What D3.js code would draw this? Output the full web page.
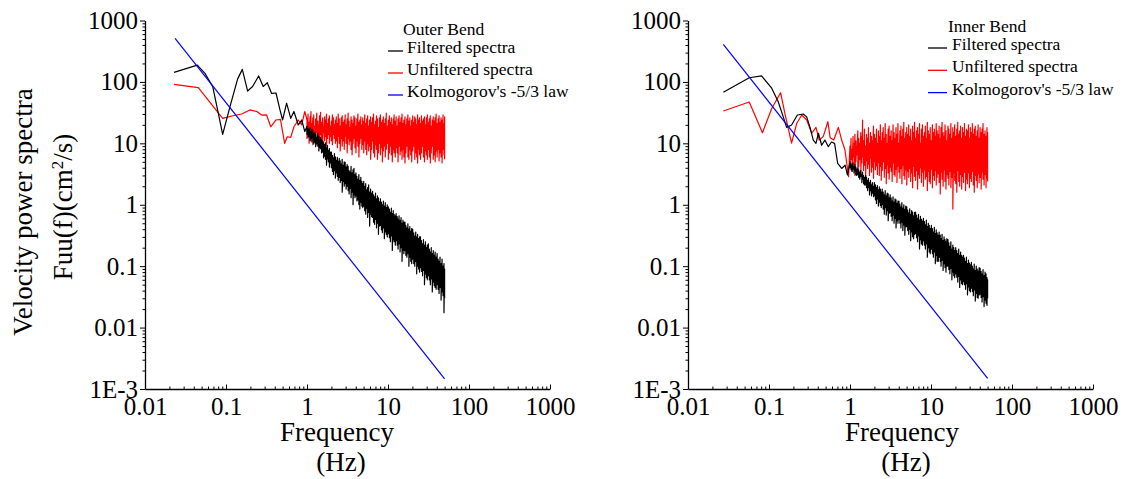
<!DOCTYPE html>
<html>
<head>
<meta charset="utf-8">
<script src="https://cdn.jsdelivr.net/npm/d3@7"></script>
<style>
  html, body { margin: 0; padding: 0; background: #fff; }
  svg { display: block; font-family: "Liberation Serif", "Times New Roman", serif; }
</style>
</head>
<body>
<div id="chart"></div>
<script>
// axis ticks
var xTickValues = [0.01, 0.1, 1, 10, 100, 1000];
var xTickLabels = ["0.01", "0.1", "1", "10", "100", "1000"];
var yTickValues = [0.001, 0.01, 0.1, 1, 10, 100, 1000];
var yTickLabels = ["1E-3", "0.01", "0.1", "1", "10", "100", "1000"];

var legendLabels = ["Filtered spectra", "Unfiltered spectra", "Kolmogorov's -5/3 law"];
var seriesColors = ["#000000", "#ff0000", "#0000ff"];

// frequency columns of the noisy part (1 - 50 Hz); each column has a max and a min value
var denseFreq = [1, 1.03, 1.06, 1.09, 1.12, 1.15, 1.18, 1.21, 1.25, 1.28,
  1.32, 1.36, 1.4, 1.43, 1.47, 1.51, 1.56, 1.6, 1.65, 1.69,
  1.74, 1.79, 1.84, 1.89, 1.95, 2.0, 2.06, 2.12, 2.18, 2.24,
  2.3, 2.37, 2.43, 2.5, 2.57, 2.65, 2.72, 2.8, 2.88, 2.96,
  3.04, 3.13, 3.22, 3.31, 3.4, 3.5, 3.6, 3.7, 3.8, 3.91,
  4.02, 4.13, 4.25, 4.37, 4.49, 4.62, 4.75, 4.88, 5.02, 5.16,
  5.31, 5.46, 5.61, 5.77, 5.93, 6.1, 6.27, 6.45, 6.63, 6.82,
  7.01, 7.21, 7.41, 7.62, 7.84, 8.06, 8.29, 8.52, 8.76, 9.01,
  9.26, 9.52, 9.79, 10.1, 10.4, 10.7, 11.0, 11.3, 11.6, 11.9,
  12.3, 12.6, 13.0, 13.3, 13.7, 14.1, 14.5, 14.9, 15.3, 15.7,
  16.2, 16.6, 17.1, 17.6, 18.1, 18.6, 19.1, 19.6, 20.2, 20.8,
  21.4, 22.0, 22.6, 23.2, 23.9, 24.5, 25.2, 25.9, 26.7, 27.4,
  28.2, 29.0, 29.8, 30.6, 31.5, 32.4, 33.3, 34.2, 35.2, 36.2,
  37.2, 38.2, 39.3, 40.4, 41.6, 42.7, 43.9, 45.2, 46.5, 47.8,
  49.1, 50.0];

// ---- Outer bend ----
var outerFilteredLowFreq = [0.0228, 0.0443, 0.055, 0.0686, 0.091, 0.112, 0.139, 0.159, 0.185, 0.213,
  0.253, 0.288, 0.323, 0.366, 0.414, 0.464, 0.5, 0.56, 0.63, 0.69, 0.78, 0.86, 0.94];
var outerFilteredLow = [143, 188, 138, 83.5, 14, 39.5, 111, 160, 71, 84,
  125, 84, 97, 65, 66, 35, 24, 45, 25.5, 33, 19.9, 24, 15.5];
var outerFilteredHi = [19, 17.5, 16.5, 18, 15, 17, 16, 14.5,
  15, 14, 12.5, 14.5, 13, 11, 12.5, 11.5,
  11, 10.5, 9.5, 10.2, 8.5, 9.2, 7.6, 8.2, 7.2,
  7.2, 6.4, 5.8, 6.8, 6, 5.3, 5.9, 5.1,
  5.7, 5.2, 4.6, 5.5, 4.4, 5, 4.9, 4.1,
  4.5, 4.2, 3.6, 3.4, 4.2, 3.3, 3.7, 3.9, 3.1,
  3.3, 2.9, 2.6, 3.1, 2.5, 2.8, 2.4, 2.2,
  2.4, 2.0, 2.2, 1.75, 1.9, 2.1, 1.6, 1.8, 1.55,
  1.65, 1.45, 1.35, 1.55, 1.25, 1.4, 1.3, 1.12,
  1.25, 1.1, 1.0, 1.15, 0.95, 1.08, 0.9, 1.0,
  0.92, 0.85, 0.75, 0.88, 0.72, 0.8, 0.7, 0.66,
  0.72, 0.64, 0.58, 0.66, 0.55, 0.62, 0.5, 0.56, 0.52,
  0.52, 0.46, 0.42, 0.49, 0.4, 0.44, 0.37, 0.41,
  0.4, 0.35, 0.31, 0.36, 0.3, 0.33, 0.28, 0.3,
  0.3, 0.26, 0.23, 0.27, 0.22, 0.25, 0.2, 0.22,
  0.23, 0.19, 0.17, 0.2, 0.16, 0.18, 0.15, 0.17, 0.14,
  0.16, 0.13, 0.12, 0.14, 0.11, 0.13, 0.1, 0.11, 0.09];
var outerFilteredLo = [14, 12.5, 13, 11, 12, 10.5, 12.5, 9.8,
  10.5, 8.8, 9.8, 9, 7.5, 8.5, 8.2, 7,
  7.2, 5.8, 6.2, 5.5, 4.4, 5.6, 5, 4.1, 4.8,
  4, 3.5, 3.1, 3.6, 2.7, 3.3, 2.9, 2.5,
  2.8, 2.3, 2.5, 1.6, 2.4, 2.0, 2.2, 1.8,
  2.0, 1.7, 1.5, 1.85, 1.3, 1.6, 1.0, 1.45, 1.3,
  1.4, 1.15, 1.2, 1.0, 0.85, 1.1, 0.95, 0.9,
  0.95, 0.8, 0.7, 0.88, 0.62, 0.75, 0.45, 0.7, 0.64,
  0.62, 0.52, 0.48, 0.58, 0.42, 0.5, 0.33, 0.45,
  0.46, 0.39, 0.35, 0.42, 0.28, 0.36, 0.33, 0.3,
  0.34, 0.29, 0.25, 0.31, 0.18, 0.27, 0.25, 0.22,
  0.26, 0.22, 0.19, 0.23, 0.17, 0.2, 0.12, 0.18, 0.16,
  0.18, 0.15, 0.14, 0.16, 0.1, 0.14, 0.12, 0.11,
  0.13, 0.11, 0.1, 0.12, 0.075, 0.1, 0.09, 0.08,
  0.095, 0.082, 0.07, 0.085, 0.05, 0.075, 0.065, 0.06,
  0.07, 0.06, 0.05, 0.062, 0.038, 0.055, 0.048, 0.045, 0.042,
  0.05, 0.042, 0.036, 0.045, 0.028, 0.038, 0.033, 0.0175, 0.03];

var outerUnfilteredLowFreq = [0.0228, 0.0455, 0.091, 0.118, 0.156, 0.197, 0.24, 0.276, 0.317, 0.357,
  0.414, 0.47, 0.53, 0.57, 0.63, 0.69, 0.78, 0.86, 0.94];
var outerUnfilteredLow = [91.4, 80.5, 25.5, 27.9, 30, 35, 33, 28.9, 29, 18.6,
  24, 24.6, 10, 12.8, 12.5, 18.6, 24, 20, 33];
var outerUnfilteredHi = [24, 30, 22, 27, 33, 21, 26, 29, 19, 25, 31, 23, 20, 28, 32, 22, 26, 18, 27, 24, 30, 21, 25, 28, 19, 23, 29, 26, 20, 24,
  27, 21, 30, 25, 19, 26, 28, 22, 24, 29, 20, 25, 31, 23, 18, 27, 24, 21, 28, 26, 19, 25, 30, 22, 24, 27, 20, 26, 23, 29,
  21, 25, 28, 19, 24, 27, 22, 26, 30, 20, 23, 28, 25, 18, 26, 29, 22, 24, 27, 21, 25, 31, 19, 24, 28, 22, 26, 20, 25, 29,
  23, 27, 19, 25, 28, 22, 26, 30, 21, 24, 27, 20, 25, 29, 23, 26, 19, 24, 28, 22, 27, 25, 20, 29, 24, 26, 21, 28, 23, 25,
  27, 20, 26, 29, 22, 25, 28, 19, 24, 27, 23, 26, 30, 21, 25, 28, 22, 26, 24, 29, 21, 27];
var outerUnfilteredLo = [12, 14, 10, 15, 11, 13, 9.5, 14, 12, 10, 15, 11, 13, 9, 14, 12, 10.5, 15, 11, 13, 9, 12, 14, 10, 13, 11, 9.5, 14, 12, 10,
  11, 8.5, 13, 10, 7.5, 12, 9, 11, 8, 13, 10, 7, 12, 9.5, 11, 8, 6.5, 10, 12, 8.5, 7, 11, 9, 6, 10, 12, 8, 9.5, 7, 11,
  8, 6.5, 10, 7.5, 9, 5.5, 8, 11, 7, 6, 9.5, 8, 5.5, 7, 10, 6.5, 8.5, 5, 7.5, 9, 6, 8, 10, 5.5, 7, 9, 6.5, 5, 8, 7,
  6, 8.5, 7, 5, 9, 6.5, 7.5, 5.5, 8, 6, 4.8, 7, 9, 6, 5.5, 8, 6.5, 5, 7.5, 9, 5.5, 7, 6, 4.8, 8, 6.5, 5.5, 7, 9, 6,
  5, 7.5, 6.5, 5.5, 8, 6, 4.8, 7, 9, 5.5, 6.5, 5, 7.5, 6, 8, 5.2, 7, 6, 4.8, 8, 6.5, 5.5];
var outerKolFreq = [0.0235, 50];
var outerKol = [513, 0.00146];

// ---- Inner bend ----
var innerFilteredLowFreq = [0.0273, 0.057, 0.081, 0.108, 0.130, 0.150, 0.165, 0.19, 0.224, 0.265,
  0.292, 0.321, 0.352, 0.38, 0.407, 0.447, 0.49, 0.54, 0.59, 0.645, 0.705, 0.79, 0.87, 0.93];
var innerFilteredLow = [67.7, 117, 125, 79, 47.6, 27, 18.2, 19.9, 28.9, 30,
  27, 18.2, 11.3, 10, 14.6, 9.3, 11.3, 8.8, 10.5, 10, 4.7, 3.9, 4.4, 3.05];
var innerFilteredHi = [5.0, 4.7, 4.4, 4.8, 4.2, 4.5, 4.1, 3.8,
  4.0, 3.7, 3.4, 3.6, 3.1, 3.4, 3.0, 2.8,
  3.0, 2.8, 2.5, 2.7, 2.3, 2.5, 2.1, 2.3, 2.0,
  2.3, 2.1, 1.9, 2.05, 1.75, 1.95, 1.8, 1.6,
  1.8, 1.6, 1.45, 1.7, 1.4, 1.55, 1.5, 1.3,
  1.45, 1.3, 1.15, 1.35, 1.1, 1.25, 1.2, 1.05, 1.15,
  1.15, 1.02, 0.92, 1.08, 0.88, 1.0, 0.84, 0.95,
  0.92, 0.82, 0.74, 0.86, 0.7, 0.8, 0.76, 0.66, 0.75,
  0.76, 0.68, 0.6, 0.7, 0.56, 0.65, 0.58, 0.54,
  0.6, 0.53, 0.47, 0.56, 0.44, 0.5, 0.46, 0.41,
  0.46, 0.41, 0.36, 0.43, 0.34, 0.39, 0.35, 0.32,
  0.36, 0.32, 0.28, 0.33, 0.26, 0.3, 0.27, 0.25, 0.28,
  0.27, 0.24, 0.21, 0.25, 0.19, 0.22, 0.2, 0.18,
  0.2, 0.18, 0.16, 0.19, 0.15, 0.17, 0.15, 0.14,
  0.15, 0.135, 0.12, 0.14, 0.11, 0.125, 0.112, 0.105,
  0.115, 0.1, 0.09, 0.108, 0.085, 0.1, 0.09, 0.083, 0.095,
  0.092, 0.082, 0.074, 0.088, 0.07, 0.08, 0.075, 0.065, 0.06];
var innerFilteredLo = [4.0, 3.7, 3.5, 3.8, 3.3, 3.6, 3.1, 3.0,
  3.1, 2.8, 2.6, 2.9, 2.3, 2.6, 2.2, 2.1,
  2.1, 1.9, 1.7, 1.9, 1.45, 1.7, 1.4, 1.55, 1.35,
  1.4, 1.2, 1.05, 1.25, 0.95, 1.1, 0.98, 0.9,
  1.0, 0.85, 0.7, 0.9, 0.68, 0.8, 0.55, 0.72,
  0.75, 0.65, 0.55, 0.68, 0.5, 0.6, 0.42, 0.55, 0.5,
  0.58, 0.5, 0.42, 0.52, 0.38, 0.47, 0.32, 0.44,
  0.44, 0.38, 0.33, 0.4, 0.26, 0.36, 0.3, 0.28, 0.33,
  0.34, 0.29, 0.25, 0.31, 0.19, 0.27, 0.23, 0.22,
  0.26, 0.22, 0.19, 0.23, 0.14, 0.2, 0.17, 0.16,
  0.19, 0.16, 0.14, 0.17, 0.11, 0.15, 0.12, 0.12,
  0.14, 0.12, 0.1, 0.125, 0.085, 0.11, 0.095, 0.08, 0.1,
  0.1, 0.088, 0.075, 0.092, 0.06, 0.08, 0.07, 0.065,
  0.075, 0.066, 0.055, 0.068, 0.045, 0.06, 0.052, 0.05,
  0.056, 0.05, 0.042, 0.052, 0.034, 0.046, 0.04, 0.038,
  0.044, 0.039, 0.033, 0.041, 0.027, 0.036, 0.031, 0.03, 0.034,
  0.035, 0.031, 0.026, 0.032, 0.022, 0.028, 0.025, 0.023, 0.03];

var innerUnfilteredLowFreq = [0.0273, 0.057, 0.083, 0.108, 0.139, 0.157, 0.19, 0.22, 0.254, 0.292,
  0.337, 0.38, 0.417, 0.468, 0.533, 0.569, 0.63, 0.718, 0.79, 0.867, 0.96];
var innerUnfilteredLow = [33.6, 47, 14.9, 37, 66.7, 30.8, 10.1, 21.2, 28.9, 24,
  14.6, 18.2, 11.3, 13, 22.5, 12.3, 11.3, 18.2, 11.3, 7.8, 2.86];
var innerUnfilteredHi = [9, 12, 8, 13, 10, 14, 11, 9, 16, 12, 10, 15, 13, 24, 11, 17, 9, 14, 12, 18, 10, 15, 13, 11, 19, 14, 12, 17, 10, 16,
  13, 20, 11, 15, 18, 12, 21, 14, 10, 17, 19, 13, 16, 11, 20, 15, 12, 18, 14, 21, 10, 16, 19, 13, 17, 22, 12, 15, 18, 14,
  20, 13, 17, 11, 19, 15, 22, 12, 16, 18, 14, 21, 10, 17, 20, 13, 15, 19, 12, 22, 16, 14, 18, 11, 20, 15, 17, 13, 21, 16,
  14, 19, 12, 18, 22, 15, 13, 20, 16, 11, 19, 17, 14, 21, 12, 18, 15, 20, 13, 17, 22, 14, 16, 19, 12, 18, 15, 21, 13, 17,
  16, 20, 12, 18, 15, 21, 14, 17, 19, 13, 16, 20, 12, 18, 15, 17, 21, 14, 16, 13, 18, 15];
var innerUnfilteredLo = [4, 5.5, 3.5, 6, 4.5, 3, 5, 6.5, 3.8, 4.2, 5.5, 3.2, 4.8, 6, 3.6, 4.4, 2.8, 5.2, 3.9, 4.6, 3, 5.8, 3.4, 4.1, 2.7, 5, 3.7, 4.3, 3.1, 4.9,
  3, 4.2, 2.5, 3.6, 5, 2.8, 3.9, 2.2, 4.5, 3.3, 2.6, 4.1, 3.5, 2.4, 4.8, 3.1, 2.9, 3.8, 2.3, 4.3, 3.4, 2.7, 3.9, 2.2, 4.4, 3, 2.6, 3.7, 2.1, 3.5,
  2.8, 3.9, 2.4, 3.3, 1.9, 4.2, 2.9, 2.5, 3.6, 1.8, 3.1, 2.7, 4, 2.3, 3.4, 2.0, 3.7, 2.6, 2.9, 1.7, 3.5, 2.4, 2.2, 3.8, 1.9, 3, 2.5, 3.6, 2.1, 2.8,
  3.2, 2.3, 1.5, 3.4, 2.6, 2, 3.7, 2.4, 1.8, 3.1, 2.7, 2.1, 3.5, 1.9, 2.8, 0.85, 3.3, 2.5, 2.2, 1.6, 3.6, 2.4, 2, 3.1, 1.8, 2.9, 2.3, 3.4, 1.7, 2.6,
  2.2, 3.3, 1.9, 2.7, 2.4, 3.5, 2.1, 1.6, 3, 2.5, 1.9, 3.2, 2.3, 2.8, 1.8, 3.4, 2.6, 2.1, 3.1, 1.9, 2.7, 2.4];
var innerKolFreq = [0.0273, 50];
var innerKol = [409, 0.00149];

var width = 1125, height = 479;

var svg = d3.select("#chart").append("svg")
  .attr("width", width)
  .attr("height", height);

// low part as plain points, noisy part as max/min per frequency column
function spectrum(lowF, lowV, hi, lo) {
  var pts = d3.zip(lowF, lowV);
  denseFreq.forEach(function(f, i) {
    pts.push([f, hi[i]]);
    pts.push([f, lo[i]]);
  });
  return pts;
}

var panels = [
  {
    title: "Outer Bend", x0: 145, x1: 550,
    series: [
      spectrum(outerFilteredLowFreq, outerFilteredLow, outerFilteredHi, outerFilteredLo),
      spectrum(outerUnfilteredLowFreq, outerUnfilteredLow, outerUnfilteredHi, outerUnfilteredLo),
      d3.zip(outerKolFreq, outerKol)
    ],
    legend: { titleX: 403, titleY: 35, lineX0: 388, lineX1: 403, textX: 407, y0: 53, step: 22 },
    xTitle: 337
  },
  {
    title: "Inner Bend", x0: 688, x1: 1093,
    series: [
      spectrum(innerFilteredLowFreq, innerFilteredLow, innerFilteredHi, innerFilteredLo),
      spectrum(innerUnfilteredLowFreq, innerUnfilteredLow, innerUnfilteredHi, innerUnfilteredLo),
      d3.zip(innerKolFreq, innerKol)
    ],
    legend: { titleX: 948, titleY: 32, lineX0: 928, lineX1: 947, textX: 952, y0: 50, step: 22.3 },
    xTitle: 902
  }
];

var yTop = 20.5, yBottom = 389;

// minor ticks 2..9 of each decade
function minorTicks(lo, hi) {
  var out = [];
  for (var e = lo; e < hi; e++) {
    for (var m = 2; m <= 9; m++) out.push(m * Math.pow(10, e));
  }
  return out;
}

panels.forEach(function(p) {
  var x = d3.scaleLog().domain([0.01, 1000]).range([p.x0, p.x1]);
  var y = d3.scaleLog().domain([0.001, 1000]).range([yBottom, yTop]);
  var g = svg.append("g");

  var line = d3.line().x(function(d) { return x(d[0]); }).y(function(d) { return y(d[1]); });
  [1, 0, 2].forEach(function(i) {
    g.append("path")
      .datum(p.series[i])
      .attr("d", line)
      .attr("fill", "none")
      .attr("stroke", seriesColors[i])
      .attr("stroke-width", 1.2)
      .attr("stroke-linejoin", "round");
  });

  // x axis, ticks pointing into the plot
  var xMinor = g.append("g")
    .attr("transform", "translate(0," + yBottom + ")")
    .call(d3.axisBottom(x).tickValues(minorTicks(-2, 3)).tickSizeInner(-2.5).tickSizeOuter(0).tickFormat(""));
  xMinor.select(".domain").remove();
  var xAxis = g.append("g")
    .attr("transform", "translate(0," + yBottom + ")")
    .call(d3.axisBottom(x).tickValues(xTickValues).tickSizeInner(-4.5).tickSizeOuter(0).tickPadding(8)
      .tickFormat(function(d, i) { return xTickLabels[i]; }));

  // y axis, ticks pointing out
  var yMinor = g.append("g")
    .attr("transform", "translate(" + p.x0 + ",0)")
    .call(d3.axisLeft(y).tickValues(minorTicks(-3, 3)).tickSizeInner(2.5).tickSizeOuter(0).tickFormat(""));
  yMinor.select(".domain").remove();
  var yAxis = g.append("g")
    .attr("transform", "translate(" + p.x0 + ",0)")
    .call(d3.axisLeft(y).tickValues(yTickValues).tickSizeInner(5).tickSizeOuter(0).tickPadding(2)
      .tickFormat(function(d, i) { return yTickLabels[i]; }));

  g.selectAll("g").attr("font-family", null).attr("font-size", null);
  g.selectAll(".tick text").style("font-size", "25px").attr("fill", "#000");
  g.selectAll(".domain").attr("stroke", "#000").attr("stroke-width", 1.3);
  g.selectAll(".tick line").attr("stroke", "#000").attr("stroke-width", 1);

  // x title
  g.append("text")
    .attr("x", p.xTitle).attr("y", 441)
    .style("font-size", "27px").style("text-anchor", "middle")
    .text("Frequency");
  g.append("text")
    .attr("x", p.xTitle + 4).attr("y", 471)
    .style("font-size", "27px").style("text-anchor", "middle")
    .text("(Hz)");

  // legend
  var L = p.legend;
  g.append("text")
    .attr("x", L.titleX).attr("y", L.titleY)
    .style("font-size", "17.5px")
    .text(p.title);
  legendLabels.forEach(function(lbl, i) {
    var by = L.y0 + i * L.step;
    g.append("line")
      .attr("x1", L.lineX0).attr("x2", L.lineX1)
      .attr("y1", by - 2).attr("y2", by - 2)
      .attr("stroke", seriesColors[i]).attr("stroke-width", 1.3);
    g.append("text")
      .attr("x", L.textX).attr("y", by)
      .style("font-size", "17.5px")
      .text(lbl);
  });
});

// y axis title (left panel only)
svg.append("text")
  .attr("transform", "translate(32,212) rotate(-90)")
  .style("font-size", "27px").style("text-anchor", "middle")
  .text("Velocity power spectra");
var t2 = svg.append("text")
  .attr("transform", "translate(72,207) rotate(-90)")
  .style("font-size", "27px").style("text-anchor", "middle");
t2.append("tspan").text("Fuu(f)(cm");
t2.append("tspan").attr("baseline-shift", "super").style("font-size", "17px").text("2");
t2.append("tspan").text("/s)");
</script>
</body>
</html>
